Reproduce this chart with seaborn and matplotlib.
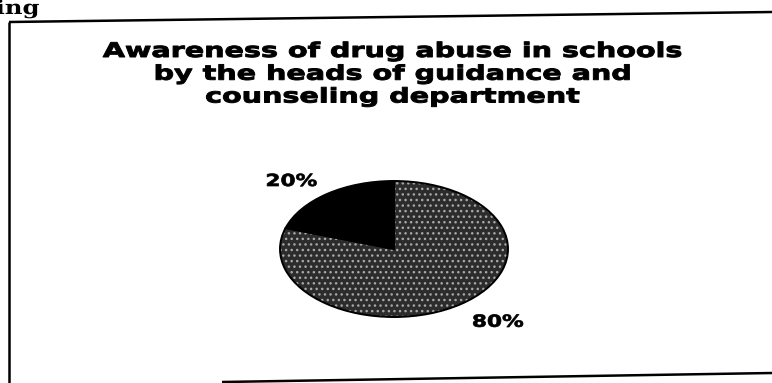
import matplotlib
matplotlib.use("Agg")
import matplotlib.pyplot as plt
import seaborn as sns
import numpy as np
from matplotlib.lines import Line2D
from matplotlib.path import Path
from matplotlib.patheffects import AbstractPathEffect
from matplotlib.transforms import Affine2D

# Data
categories = ["Aware", "Not aware"]
shares = [20, 80]
slice_labels = [f"{v}%" for v in shares]
title_lines = [
    "Awareness of drug abuse in schools",
    "by the heads of guidance and",
    "counseling department",
]

sns.set_theme(style="white")
plt.rcParams["font.family"] = ["DejaVu Sans"]

W, H = 772, 383


class WideType(AbstractPathEffect):
    """Draw text glyphs stretched horizontally about the centre of each line,
    with a thin stroke to make them heavier."""

    def __init__(self, sx, stroke=0.0):
        super().__init__()
        self.sx = sx
        self.stroke = stroke

    def draw_path(self, renderer, gc, tpath, affine, rgbFace=None):
        verts = tpath.vertices
        if tpath.codes is not None:
            verts = verts[tpath.codes != Path.CLOSEPOLY]
        xs = affine.transform(verts)[:, 0]
        cx = 0.5 * (xs.min() + xs.max())
        stretch = Affine2D().translate(-cx, 0).scale(self.sx, 1).translate(cx, 0)
        gc0 = renderer.new_gc()
        gc0.copy_properties(gc)
        if self.stroke > 0 and rgbFace is not None:
            gc0.set_linewidth(self.stroke)
            gc0.set_foreground(rgbFace)
            gc0.set_joinstyle("round")
        renderer.draw_path(gc0, tpath, affine + stretch, rgbFace)
        gc0.restore()


def fx(px):
    return px / W


def fy(py):
    return 1 - py / H


fig = plt.figure(figsize=(W / 100, H / 100), dpi=100)
fig.patch.set_facecolor("white")

# Heading fragment from the page above the chart box
fig.text(fx(0), fy(14), "ing", family="DejaVu Serif", fontweight="bold",
         fontsize=14, ha="left", va="baseline", color="black",
         path_effects=[WideType(1.25)])

# Chart box edges
box_kw = dict(color="black", lw=1.8, transform=fig.transFigure, solid_capstyle="butt")
fig.add_artist(Line2D([fx(9), fx(772)], [fy(22), fy(12)], **box_kw))
fig.add_artist(Line2D([fx(9), fx(9)], [fy(22), fy(383)], **box_kw))
fig.add_artist(Line2D([fx(222), fx(772)], [fy(382), fy(373)], **box_kw))

# Title
fig.text(fx(393), fy(42), "\n".join(title_lines), ha="center", va="top",
         multialignment="center", fontsize=14.5, fontweight="bold",
         linespacing=1.25, color="black", path_effects=[WideType(1.42, 0.7)])

# Pie drawn as a flattened ellipse
ax = fig.add_axes([fx(280), fy(317), fx(228), 136 / H])
colors = ["black", "#2c2c2c"]
hatches = [None, "..."]
wedges, texts = ax.pie(
    shares, labels=slice_labels, startangle=90, counterclock=True,
    colors=colors, labeldistance=1.40,
    wedgeprops=dict(linewidth=0, edgecolor="#a8a8a8"),
    textprops=dict(fontsize=12, fontweight="bold", color="black"),
)
for w, h in zip(wedges, hatches):
    if h:
        w.set_hatch(h)
for t in texts:
    t.set_ha("center")
    t.set_va("center")
    t.set_path_effects([WideType(1.30, 0.5)])
texts[0].set_position((-0.90, 1.00))
texts[1].set_position((0.91, -1.07))
# Dark outline of each slice
ax.pie(shares, startangle=90, counterclock=True,
       wedgeprops=dict(fill=False, linewidth=1.4, edgecolor="black"))
ax.set_aspect("auto")
ax.set_xlim(-1.0, 1.0)
ax.set_ylim(-1.0, 1.0)
ax.axis("off")

fig.savefig("out.png", dpi=100, facecolor="white")
